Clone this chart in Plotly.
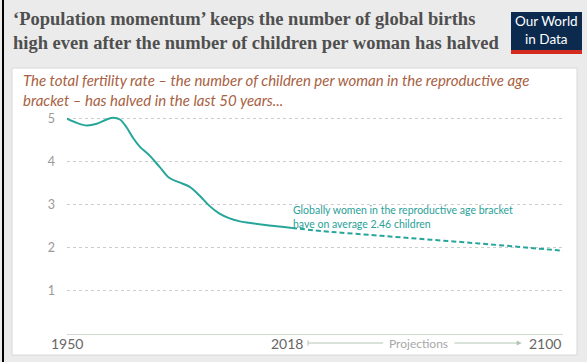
import plotly.graph_objects as go

# ---- data ----
hist_years = [1950, 1953, 1956, 1959, 1962, 1964, 1966, 1968, 1970, 1972, 1975, 1978,
              1981, 1984, 1987, 1990, 1993, 1996, 1999, 2002, 2005, 2010, 2015, 2018]
hist_tfr = [5.00, 4.90, 4.84, 4.88, 4.98, 5.02, 4.98, 4.80, 4.55, 4.35, 4.14, 3.88,
            3.62, 3.52, 3.42, 3.22, 2.98, 2.80, 2.69, 2.62, 2.58, 2.53, 2.49, 2.46]
proj_years = [2018, 2030, 2045, 2060, 2075, 2090, 2100]
proj_tfr = [2.46, 2.37, 2.28, 2.19, 2.10, 2.00, 1.93]
y_ticks = [1, 2, 3, 4, 5]
x_labels = ["1950", "2018", "2100"]
x_label_years = [1950, 2018, 2100]

title_lines = ["‘Population momentum’ keeps the number of global births",
               "high even after the number of children per woman has halved"]
subtitle_lines = ["The total fertility rate – the number of children per woman in the reproductive age",
                  "bracket – has halved in the last 50 years..."]
note_lines = ["Globally women in the reproductive age bracket",
              "have on average 2.46 children"]

W, H = 587, 362
L, R, T, B = 67, 24, 110, 28
TEAL = "#26a69a"

def px2paper_x(px):
    return (px - L) / (W - L - R)

def px2paper_y(py):
    return (H - B - py) / (H - T - B)

fig = go.Figure()
fig.add_trace(go.Scatter(x=hist_years, y=hist_tfr, mode="lines",
                         line=dict(color=TEAL, width=2, shape="spline", smoothing=1.0),
                         hoverinfo="skip", showlegend=False))
fig.add_trace(go.Scatter(x=proj_years, y=proj_tfr, mode="lines",
                         line=dict(color=TEAL, width=2, dash="5px,3px", shape="spline"),
                         hoverinfo="skip", showlegend=False))

shapes = []
# white panel
shapes.append(dict(type="rect", xref="paper", yref="paper", layer="below",
                   x0=px2paper_x(12), x1=px2paper_x(577), y0=px2paper_y(355), y1=px2paper_y(68),
                   fillcolor="white", line=dict(color="#d8d8d8", width=1)))
# black left border line
shapes.append(dict(type="line", xref="paper", yref="paper",
                   x0=px2paper_x(3), x1=px2paper_x(3), y0=px2paper_y(0), y1=px2paper_y(362),
                   line=dict(color="black", width=2)))
# logo
shapes.append(dict(type="rect", xref="paper", yref="paper",
                   x0=px2paper_x(511), x1=px2paper_x(582), y0=px2paper_y(51), y1=px2paper_y(12),
                   fillcolor="#0b2a4e", line=dict(width=0)))
shapes.append(dict(type="rect", xref="paper", yref="paper",
                   x0=px2paper_x(511), x1=px2paper_x(582), y0=px2paper_y(54), y1=px2paper_y(50),
                   fillcolor="#d42b21", line=dict(width=0)))
# projection lines
ypj = px2paper_y(343)
shapes.append(dict(type="line", xref="x", yref="paper", x0=2022.9, x1=2045.6, y0=ypj, y1=ypj,
                   line=dict(color="#b3c6b3", width=1)))
shapes.append(dict(type="line", xref="x", yref="paper", x0=2022.9, x1=2022.9,
                   y0=ypj - 0.012, y1=ypj + 0.012, line=dict(color="#b3c6b3", width=1)))

annotations = []
annotations.append(dict(xref="paper", yref="paper", x=px2paper_x(11), y=px2paper_y(7),
                        xanchor="left", yanchor="top", align="left", showarrow=False,
                        text="<br>".join("<b>%s</b>" % t for t in title_lines),
                        font=dict(family="Liberation Serif", size=18.5, color="#4f4f4f")))
annotations.append(dict(xref="paper", yref="paper", x=px2paper_x(21), y=px2paper_y(69),
                        xanchor="left", yanchor="top", align="left", showarrow=False,
                        text="<br>".join(subtitle_lines),
                        font=dict(family="Lato", size=15, color="#a95f42", style="italic")))
annotations.append(dict(xref="paper", yref="paper", x=px2paper_x(546.5), y=px2paper_y(30),
                        xanchor="center", yanchor="middle", align="center", showarrow=False,
                        text="Our World<br>in Data",
                        font=dict(family="Lato", size=13.5, color="white")))
annotations.append(dict(xref="x", yref="y", x=2017.8, y=2.725,
                        xanchor="left", yanchor="middle", align="left", showarrow=False,
                        text="<br>".join(note_lines),
                        font=dict(family="Lato", size=10.5, color="#2aa198")))
for lab, yr in zip(x_labels, x_label_years):
    anchor = "right" if yr == 2100 else "center"
    xx = yr if yr != 2018 else 2016.5
    annotations.append(dict(xref="x", yref="paper", x=xx, y=ypj, xanchor=anchor, yanchor="middle",
                            showarrow=False, text=lab,
                            font=dict(family="Lato", size=14, color="#666666")))
annotations.append(dict(xref="x", yref="paper", x=2056.2, y=ypj, xanchor="center", yanchor="middle",
                        showarrow=False, text="Projections",
                        font=dict(family="Lato", size=12, color="#a8a8a8")))
annotations.append(dict(xref="x", yref="paper", x=2087.5, y=ypj, ax=2066.7, ay=0,
                        axref="x", ayref="pixel", text="", showarrow=True,
                        arrowhead=2, arrowsize=1, arrowwidth=1, arrowcolor="#b3c6b3"))

fig.update_layout(
    width=W, height=H,
    margin=dict(l=L, r=R, t=T, b=B, pad=0),
    paper_bgcolor="#ebebeb",
    plot_bgcolor="rgba(0,0,0,0)",
    shapes=shapes,
    annotations=annotations,
    showlegend=False,
    xaxis=dict(range=[1950, 2100], showgrid=False, zeroline=False, showticklabels=False,
               showline=False, fixedrange=True),
    yaxis=dict(range=[0, 5.2], tickvals=y_ticks, ticktext=[str(v) for v in y_ticks],
               showgrid=True, gridcolor="#cccccc", griddash="dot", gridwidth=1,
               zeroline=True, zerolinecolor="#d0d8d0", zerolinewidth=1,
               tickfont=dict(family="Lato", size=12.5, color="#999999"),
               ticks="", ticklabelstandoff=11, showline=False, fixedrange=True),
)

fig.write_html("out.html", config={"displayModeBar": False},
               post_script="document.body.style.margin='0';document.body.style.padding='0';")
